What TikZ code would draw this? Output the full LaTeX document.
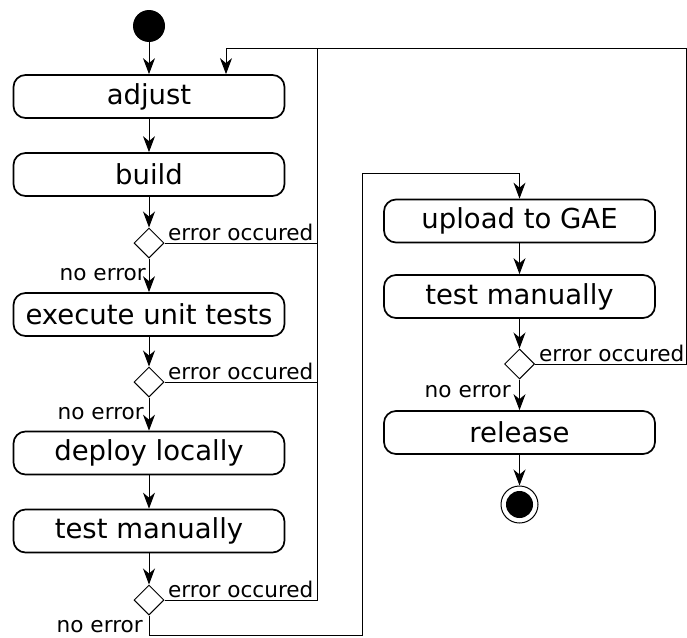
\documentclass[tikz,border=0pt]{standalone}
\usepackage{fontspec}
\setmainfont{DejaVu Sans}
\usetikzlibrary{arrows.meta,shapes.geometric}
\begin{document}
\begin{tikzpicture}[x=1pt,y=-1pt,
  action/.style={draw,line width=1.7pt,rounded corners=12pt,minimum width=271pt,minimum height=43pt,
    inner sep=0pt,font=\fontsize{27.5}{31}\selectfont},
  decision/.style={draw,diamond,line width=1pt,minimum width=30pt,minimum height=30pt,inner sep=0pt},
  flow/.style={line width=1pt,-{Stealth[length=16pt,width=12pt,inset=5pt]}},
  link/.style={line width=1pt},
  lbl/.style={inner sep=0pt,font=\fontsize{21.6}{24}\selectfont}]
\path[use as bounding box] (0,0) rectangle (687,637);

% left column
\node[circle,fill=black,minimum size=32pt,inner sep=0pt] (start) at (149,26) {};
\node[action] (adjust) at (149,96.5) {adjust};
\node[action] (build) at (149,174.5) {build};
\node[decision] (d1) at (149,243) {};
\node[action] (unit) at (149,314.5) {execute unit tests};
\node[decision] (d2) at (149,382) {};
\node[action] (deploy) at (149,453) {deploy locally};
\node[action] (test1) at (149,531) {test manually};
\node[decision] (d3) at (149,600) {};

% right column
\node[action] (upload) at (519.5,221) {upload to GAE};
\node[action] (test2) at (519.5,296.5) {test manually};
\node[decision] (d4) at (519.5,364) {};
\node[action] (release) at (519.5,432.5) {release};
\node[circle,draw,line width=1pt,minimum size=37pt,inner sep=0pt] (final) at (519.5,504.5) {};
\node[circle,fill=black,minimum size=27pt,inner sep=0pt] at (final) {};

% routing points
\coordinate (loopin) at (226,48);
\coordinate (rail) at (317,48);
\coordinate (far) at (686,48);
\coordinate (low) at (149,635);
\coordinate (gap) at (362,173);
\coordinate (upin) at (519.5,173);

% main flow
\draw[flow] (start) -- (adjust);
\draw[flow] (adjust) -- (build);
\draw[flow] (build) -- (d1);
\draw[flow] (d1) -- (unit);
\draw[flow] (unit) -- (d2);
\draw[flow] (d2) -- (deploy);
\draw[flow] (deploy) -- (test1);
\draw[flow] (test1) -- (d3);
\draw[link] (d3.south) -- (low) -| (gap) -- (upin);
\draw[flow] (upin) -- (upload.north);
\draw[flow] (upload) -- (test2);
\draw[flow] (test2) -- (d4);
\draw[flow] (d4) -- (release);
\draw[flow] (release) -- (final);

% error loops back to adjust
\draw[link] (d1.east) -- (d1.east -| rail);
\draw[link] (d2.east) -- (d2.east -| rail);
\draw[link] (d3.east) -| (rail);
\draw[link] (d4.east) -| (far) -- (loopin);
\draw[flow] (loopin) -- (loopin |- adjust.north);

% guard labels
\node[lbl,anchor=base west] (e1) at (168,240) {error occured};
\node[lbl,anchor=base west] (e2) at (168,379) {error occured};
\node[lbl,anchor=base west] (e3) at (168,597) {error occured};
\node[lbl,anchor=base west] (e4) at (539,361) {error occured};
\node[lbl,anchor=base east] (n1) at (146,280) {no error};
\node[lbl,anchor=base east] (n2) at (144,419) {no error};
\node[lbl,anchor=base east] (n3) at (143,632) {no error};
\node[lbl,anchor=base east] (n4) at (511,397) {no error};
\end{tikzpicture}
\end{document}
